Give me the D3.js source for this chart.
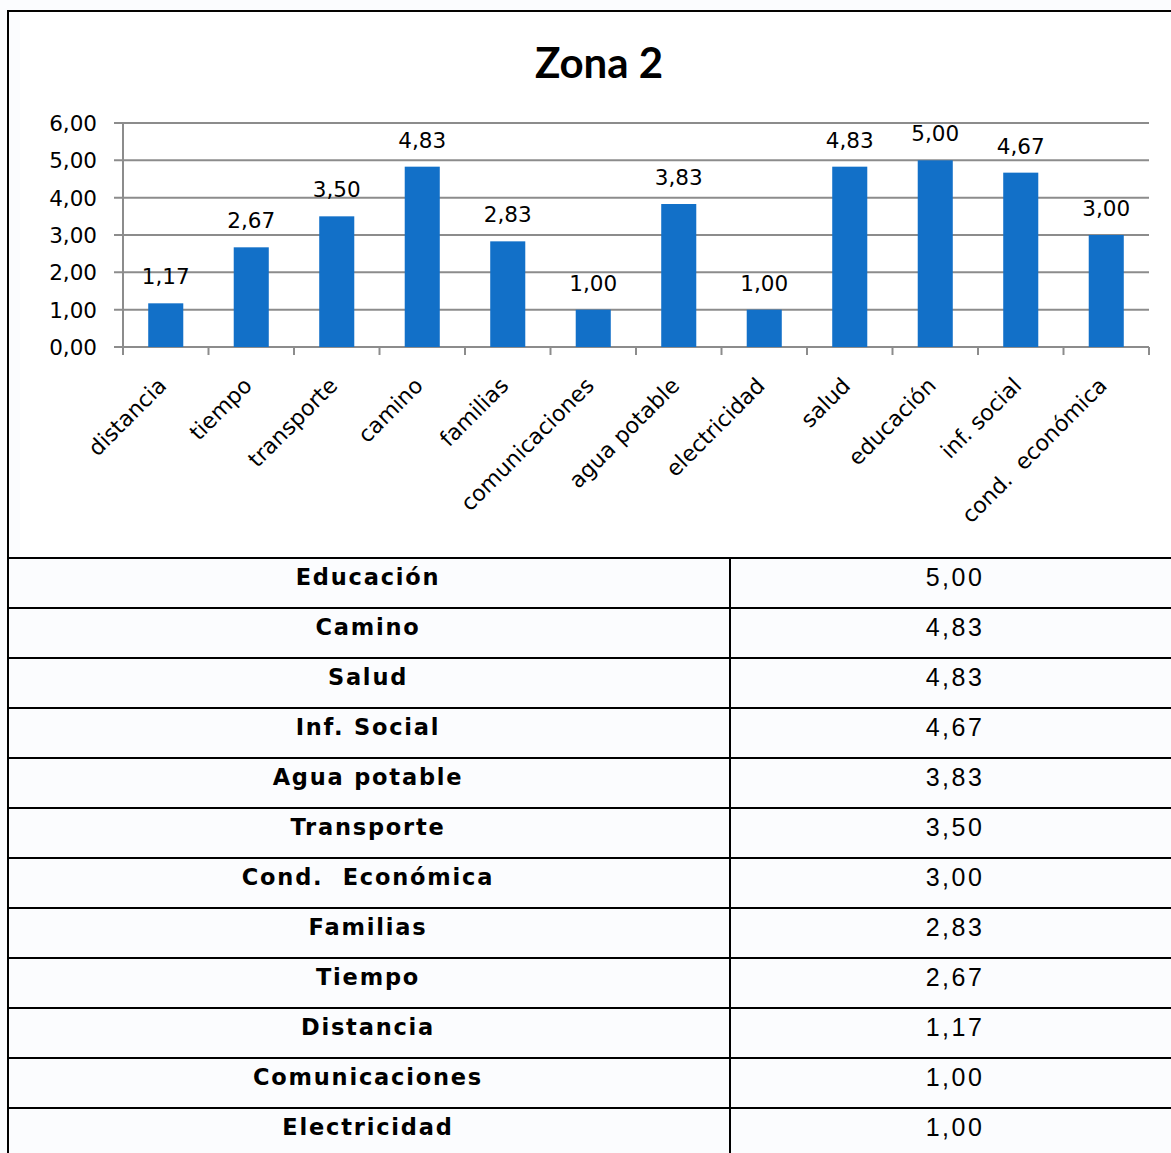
<!DOCTYPE html>
<html>
<head>
<meta charset="utf-8">
<script src="https://cdn.jsdelivr.net/npm/d3@7"></script>
<style>
  html, body { margin: 0; padding: 0; background: #fbfcfe; }
  svg { display: block; }
</style>
</head>
<body>
<div id="chart"></div>
<script>
// chart data
var categories = ["distancia", "tiempo", "transporte", "camino", "familias", "comunicaciones",
                  "agua potable", "electricidad", "salud", "educación", "inf. social", "cond.  económica"];
var values = [1.17, 2.67, 3.50, 4.83, 2.83, 1.00, 3.83, 1.00, 4.83, 5.00, 4.67, 3.00];
var yTicks = [0, 1, 2, 3, 4, 5, 6];

// table data (sorted)
var tableLabels = ["Educación", "Camino", "Salud", "Inf. Social", "Agua potable", "Transporte",
                   "Cond.  Económica", "Familias", "Tiempo", "Distancia", "Comunicaciones", "Electricidad"];
var tableValues = [5.00, 4.83, 4.83, 4.67, 3.83, 3.50, 3.00, 2.83, 2.67, 1.17, 1.00, 1.00];

(function() {
    var W = 1171, H = 1153;
    var locale = d3.formatLocale({decimal: ",", thousands: ".", grouping: [3], currency: ["", ""]});
    var fmt = locale.format(".2f");

    var svg = d3.select("#chart").append("svg")
        .attr("width", W)
        .attr("height", H);

    // chart area
    svg.append("rect")
        .attr("x", 20).attr("y", 20)
        .attr("width", W - 20).attr("height", 538)
        .attr("fill", "#ffffff");

    svg.append("text")
        .attr("x", 599).attr("y", 78)
        .attr("text-anchor", "middle")
        .style("font-family", "Lato, 'Open Sans', sans-serif")
        .style("font-weight", "bold")
        .style("font-size", "42px")
        .text("Zona 2");

    var plot = {left: 123, right: 1149, top: 123, bottom: 347};

    var x = d3.scaleBand()
        .domain(categories)
        .range([plot.left, plot.right])
        .paddingInner(0.59)
        .paddingOuter(0.295);

    var y = d3.scaleLinear()
        .domain([0, 6])
        .range([plot.bottom, plot.top]);

    var g = svg.append("g");

    // gridlines
    g.selectAll(".grid")
        .data(yTicks)
        .enter().append("line")
        .attr("x1", plot.left - 9).attr("x2", plot.right)
        .attr("y1", function(d) { return y(d); })
        .attr("y2", function(d) { return y(d); })
        .attr("stroke", "#8c8c8c")
        .attr("stroke-width", 2);

    // y axis line
    g.append("line")
        .attr("x1", plot.left).attr("x2", plot.left)
        .attr("y1", plot.top).attr("y2", plot.bottom + 8)
        .attr("stroke", "#8c8c8c").attr("stroke-width", 2);

    // y tick labels
    g.selectAll(".ylab")
        .data(yTicks)
        .enter().append("text")
        .attr("x", 97)
        .attr("y", function(d) { return y(d) + 8; })
        .attr("text-anchor", "end")
        .style("font-family", "'DejaVu Sans', sans-serif")
        .style("font-size", "21.5px")
        .text(function(d) { return fmt(d); });

    // x ticks at band boundaries
    var step = x.step();
    var bounds = d3.range(categories.length + 1).map(function(i) { return plot.left + i * step; });
    g.selectAll(".xtick")
        .data(bounds)
        .enter().append("line")
        .attr("x1", function(d) { return d; })
        .attr("x2", function(d) { return d; })
        .attr("y1", plot.bottom).attr("y2", plot.bottom + 8)
        .attr("stroke", "#8c8c8c").attr("stroke-width", 2);

    // bars
    g.selectAll(".bar")
        .data(values)
        .enter().append("rect")
        .attr("x", function(d, i) { return x(categories[i]); })
        .attr("y", function(d) { return y(d); })
        .attr("width", x.bandwidth())
        .attr("height", function(d) { return y(0) - y(d); })
        .attr("fill", "#1270c8");

    // value labels
    g.selectAll(".vlab")
        .data(values)
        .enter().append("text")
        .attr("x", function(d, i) { return x(categories[i]) + x.bandwidth() / 2; })
        .attr("y", function(d) { return y(d) - 19; })
        .attr("text-anchor", "middle")
        .style("font-family", "'DejaVu Sans', sans-serif")
        .style("font-size", "21.5px")
        .text(function(d) { return fmt(d); });

    // category labels, rotated
    g.selectAll(".xlab")
        .data(categories)
        .enter().append("text")
        .attr("transform", function(d) {
            var cx = x(d) + x.bandwidth() / 2 + 2;
            return "translate(" + cx + "," + (plot.bottom + 40) + ") rotate(-45)";
        })
        .attr("text-anchor", "end")
        .style("font-family", "'DejaVu Sans', sans-serif")
        .style("font-size", "22px")
        .style("white-space", "pre")
        .text(function(d) { return d; });

    // table
    var rowH = 50, tTop = 558, colX = 730;
    var rows = d3.range(tableLabels.length);
    var tg = svg.append("g");

    tg.selectAll(".hline")
        .data(d3.range(tableLabels.length + 1))
        .enter().append("line")
        .attr("x1", 7).attr("x2", W)
        .attr("y1", function(i) { return tTop + i * rowH; })
        .attr("y2", function(i) { return tTop + i * rowH; })
        .attr("stroke", "#000").attr("stroke-width", 2);

    tg.append("line")
        .attr("x1", colX).attr("x2", colX)
        .attr("y1", tTop).attr("y2", H)
        .attr("stroke", "#000").attr("stroke-width", 2);

    tg.selectAll(".tlab")
        .data(rows)
        .enter().append("text")
        .attr("x", 368)
        .attr("y", function(i) { return tTop + i * rowH + 27; })
        .attr("text-anchor", "middle")
        .style("font-family", "'DejaVu Sans', sans-serif")
        .style("font-weight", "bold")
        .style("font-size", "22.5px")
        .style("letter-spacing", "1.8px")
        .style("white-space", "pre")
        .text(function(i) { return tableLabels[i]; });

    tg.selectAll(".tval")
        .data(rows)
        .enter().append("text")
        .attr("x", 955)
        .attr("y", function(i) { return tTop + i * rowH + 28; })
        .attr("text-anchor", "middle")
        .style("font-family", "'Liberation Sans', Arial, sans-serif")
        .style("font-size", "25px")
        .style("letter-spacing", "2.5px")
        .text(function(i) { return fmt(tableValues[i]); });

    // outer frame
    svg.append("line")
        .attr("x1", 7).attr("x2", W).attr("y1", 11).attr("y2", 11)
        .attr("stroke", "#000").attr("stroke-width", 2);
    svg.append("line")
        .attr("x1", 8).attr("x2", 8).attr("y1", 10).attr("y2", H)
        .attr("stroke", "#000").attr("stroke-width", 2);
})();
</script>
</body>
</html>
